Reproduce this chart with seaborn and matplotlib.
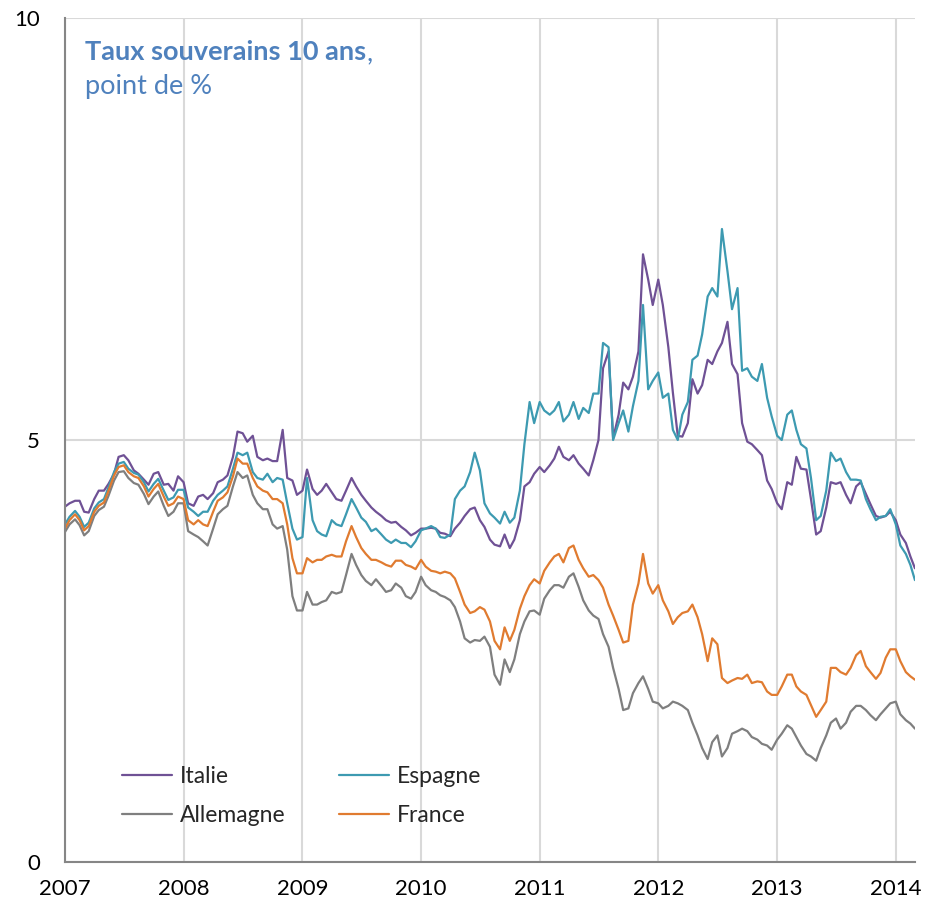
import pandas as pd
import matplotlib
matplotlib.use("Agg")
import matplotlib.pyplot as plt
import matplotlib.dates as mdates
from matplotlib.ticker import MultipleLocator
import seaborn as sns

# Taux souverains à 10 ans, points semi-mensuels
dates = pd.date_range("2007-01-01", periods=173, freq="SMS")

italie = [
    4.21, 4.25, 4.28, 4.28, 4.15, 4.14, 4.30, 4.40, 4.40, 4.48, 4.60, 4.80, 4.82, 4.76, 4.64, 4.60, 4.53, 4.47, 4.60, 4.62, 4.47, 4.48, 4.40, 4.57,
    4.50, 4.25, 4.22, 4.33, 4.35, 4.30, 4.37, 4.50, 4.53, 4.58, 4.80, 5.10, 5.08, 4.98, 5.05, 4.80, 4.76, 4.78, 4.75, 4.75, 5.12, 4.55, 4.52, 4.35,
    4.40, 4.65, 4.42, 4.35, 4.40, 4.48, 4.38, 4.30, 4.28, 4.40, 4.55, 4.45, 4.35, 4.28, 4.20, 4.15, 4.10, 4.05, 4.02, 4.03, 3.97, 3.93, 3.87, 3.90,
    3.95, 3.95, 3.96, 3.95, 3.90, 3.89, 3.86, 3.95, 4.02, 4.10, 4.18, 4.20, 4.05, 3.97, 3.82, 3.76, 3.74, 3.88, 3.72, 3.82, 4.05, 4.45, 4.50, 4.60,
    4.68, 4.62, 4.70, 4.78, 4.92, 4.80, 4.76, 4.82, 4.72, 4.66, 4.58, 4.76, 5.00, 5.85, 6.05, 5.02, 5.30, 5.68, 5.60, 5.75, 6.05, 7.20, 6.90, 6.60,
    6.90, 6.60, 6.10, 5.56, 5.05, 5.04, 5.20, 5.72, 5.55, 5.65, 5.95, 5.90, 6.05, 6.15, 6.40, 5.90, 5.78, 5.20, 4.98, 4.95, 4.88, 4.82, 4.52, 4.42,
    4.25, 4.18, 4.50, 4.47, 4.80, 4.66, 4.65, 4.30, 3.88, 3.92, 4.20, 4.50, 4.48, 4.50, 4.35, 4.25, 4.45, 4.50, 4.36, 4.24, 4.10, 4.08, 4.10, 4.15,
    4.05, 3.88, 3.78, 3.62, 3.48,
]

espagne = [
    4.00, 4.09, 4.16, 4.09, 3.97, 4.02, 4.19, 4.26, 4.30, 4.44, 4.62, 4.72, 4.74, 4.66, 4.61, 4.59, 4.50, 4.39, 4.48, 4.54, 4.40, 4.29, 4.32, 4.41,
    4.41, 4.20, 4.15, 4.10, 4.15, 4.15, 4.28, 4.35, 4.40, 4.45, 4.66, 4.85, 4.82, 4.85, 4.62, 4.55, 4.53, 4.60, 4.50, 4.55, 4.53, 4.25, 3.95, 3.82,
    3.85, 4.55, 4.05, 3.92, 3.88, 3.86, 4.05, 4.00, 3.98, 4.12, 4.30, 4.20, 4.08, 4.03, 3.92, 3.95, 3.88, 3.82, 3.78, 3.82, 3.78, 3.78, 3.73, 3.80,
    3.93, 3.95, 3.98, 3.95, 3.85, 3.84, 3.88, 4.30, 4.40, 4.45, 4.62, 4.85, 4.64, 4.25, 4.13, 4.08, 4.01, 4.15, 4.02, 4.08, 4.40, 4.95, 5.45, 5.20,
    5.45, 5.35, 5.30, 5.35, 5.45, 5.22, 5.30, 5.45, 5.25, 5.38, 5.32, 5.55, 5.55, 6.15, 6.10, 5.00, 5.20, 5.35, 5.10, 5.40, 5.70, 6.60, 5.60, 5.70,
    5.80, 5.50, 5.55, 5.12, 5.00, 5.30, 5.45, 5.95, 6.00, 6.25, 6.70, 6.80, 6.70, 7.50, 7.00, 6.55, 6.80, 5.82, 5.85, 5.75, 5.70, 5.90, 5.50, 5.28,
    5.05, 5.00, 5.30, 5.35, 5.12, 4.95, 4.90, 4.55, 4.05, 4.10, 4.40, 4.85, 4.75, 4.78, 4.62, 4.53, 4.53, 4.52, 4.30, 4.18, 4.05, 4.09, 4.10, 4.18,
    4.00, 3.75, 3.65, 3.52, 3.34,
]

allemagne = [
    3.91, 4.00, 4.06, 3.99, 3.87, 3.92, 4.10, 4.17, 4.21, 4.34, 4.52, 4.62, 4.63, 4.55, 4.49, 4.47, 4.36, 4.24, 4.33, 4.39, 4.22, 4.10, 4.15, 4.25,
    4.25, 3.92, 3.88, 3.85, 3.80, 3.75, 3.95, 4.12, 4.18, 4.22, 4.45, 4.62, 4.55, 4.58, 4.35, 4.25, 4.18, 4.18, 4.00, 3.95, 3.98, 3.70, 3.15, 2.98,
    2.98, 3.20, 3.05, 3.05, 3.08, 3.10, 3.20, 3.18, 3.20, 3.40, 3.65, 3.52, 3.40, 3.33, 3.28, 3.35, 3.27, 3.20, 3.22, 3.30, 3.25, 3.15, 3.12, 3.20,
    3.38, 3.28, 3.22, 3.20, 3.16, 3.14, 3.10, 3.02, 2.85, 2.65, 2.60, 2.63, 2.62, 2.67, 2.55, 2.22, 2.10, 2.40, 2.25, 2.40, 2.70, 2.85, 2.97, 2.98,
    2.93, 3.12, 3.22, 3.28, 3.28, 3.25, 3.38, 3.42, 3.26, 3.10, 2.98, 2.92, 2.88, 2.70, 2.55, 2.30, 2.05, 1.80, 1.82, 2.00, 2.12, 2.20, 2.05, 1.90,
    1.88, 1.82, 1.85, 1.90, 1.88, 1.85, 1.80, 1.65, 1.50, 1.35, 1.22, 1.42, 1.50, 1.25, 1.35, 1.52, 1.55, 1.58, 1.55, 1.48, 1.45, 1.40, 1.38, 1.33,
    1.45, 1.52, 1.62, 1.58, 1.48, 1.38, 1.28, 1.25, 1.20, 1.35, 1.50, 1.65, 1.70, 1.58, 1.65, 1.78, 1.85, 1.85, 1.80, 1.74, 1.68, 1.75, 1.82, 1.88,
    1.90, 1.75, 1.68, 1.64, 1.58,
]

france = [
    3.95, 4.05, 4.12, 4.05, 3.93, 3.98, 4.15, 4.22, 4.26, 4.40, 4.58, 4.68, 4.70, 4.62, 4.57, 4.55, 4.45, 4.33, 4.42, 4.48, 4.33, 4.22, 4.25, 4.33,
    4.30, 4.05, 4.00, 4.05, 4.00, 3.98, 4.15, 4.28, 4.32, 4.38, 4.57, 4.78, 4.72, 4.72, 4.55, 4.45, 4.40, 4.38, 4.30, 4.30, 4.25, 4.00, 3.60, 3.42,
    3.42, 3.60, 3.55, 3.58, 3.58, 3.62, 3.64, 3.62, 3.62, 3.80, 3.98, 3.85, 3.72, 3.65, 3.58, 3.58, 3.55, 3.52, 3.50, 3.57, 3.57, 3.52, 3.50, 3.47,
    3.58, 3.50, 3.45, 3.44, 3.42, 3.44, 3.42, 3.36, 3.20, 3.05, 2.95, 2.97, 3.02, 2.99, 2.85, 2.62, 2.52, 2.78, 2.62, 2.75, 3.00, 3.15, 3.28, 3.35,
    3.30, 3.45, 3.55, 3.62, 3.65, 3.55, 3.72, 3.75, 3.58, 3.48, 3.38, 3.40, 3.34, 3.25, 3.05, 2.92, 2.75, 2.60, 2.62, 3.05, 3.30, 3.65, 3.30, 3.18,
    3.28, 3.10, 2.97, 2.82, 2.90, 2.95, 2.97, 3.05, 2.90, 2.70, 2.38, 2.65, 2.58, 2.18, 2.12, 2.15, 2.18, 2.17, 2.22, 2.12, 2.14, 2.13, 2.02, 1.98,
    1.98, 2.08, 2.22, 2.22, 2.08, 2.02, 1.98, 1.86, 1.72, 1.80, 1.90, 2.30, 2.30, 2.25, 2.22, 2.30, 2.45, 2.50, 2.32, 2.25, 2.17, 2.24, 2.42, 2.52,
    2.52, 2.38, 2.25, 2.20, 2.16,
]

pays = ["Italie", "Espagne", "Allemagne", "France"]
couleurs = {"Italie": "#6F5195", "Espagne": "#3D9AB1", "Allemagne": "#7F7F7F", "France": "#E07B30"}
bleu_titre = "#4F81BD"
gris_axe = "#868686"

sns.set_theme(style="white")
plt.rcParams["font.family"] = ["Lato", "DejaVu Sans"]

df = pd.DataFrame({"date": dates, "Italie": italie, "Espagne": espagne,
                   "Allemagne": allemagne, "France": france})
df = df.melt(id_vars="date", var_name="pays", value_name="taux")

fig, ax = plt.subplots(figsize=(9.27, 9.14), dpi=100)
fig.subplots_adjust(left=0.0701, right=0.987, bottom=0.0569, top=0.9803)

sns.lineplot(data=df, x="date", y="taux", hue="pays", hue_order=pays,
             palette=couleurs, linewidth=1.6, estimator=None, legend=False, ax=ax)

ax.set_xlim(dates[0], dates[-1])
ax.set_ylim(0, 10)
ax.set_xlabel("")
ax.set_ylabel("")

ax.xaxis.set_major_locator(mdates.YearLocator())
ax.xaxis.set_minor_locator(mdates.MonthLocator(bymonth=7))
ax.xaxis.set_major_formatter(mdates.DateFormatter("%Y"))
ax.yaxis.set_major_locator(MultipleLocator(5))
ax.yaxis.set_minor_locator(MultipleLocator(1))

ax.set_axisbelow(True)
ax.grid(True, which="major", color="#D9D9D9", linewidth=1.5)
for s in ["top", "right"]:
    ax.spines[s].set_visible(False)
for s in ["left", "bottom"]:
    ax.spines[s].set_color(gris_axe)
    ax.spines[s].set_linewidth(1.5)

ax.tick_params(axis="both", which="both", direction="in", color=gris_axe,
               width=1.3, labelsize=16, labelcolor="black")
ax.tick_params(axis="both", which="major", length=7)
ax.tick_params(axis="both", which="minor", length=6)
ax.tick_params(axis="x", which="major", pad=12)
ax.tick_params(axis="y", which="major", pad=18)

# legende sur deux colonnes : Italie / Allemagne puis Espagne / France
lignes = dict(zip(pays, ax.get_lines()))
ordre = ["Italie", "Allemagne", "Espagne", "France"]
ax.legend([lignes[p] for p in ordre], ordre, ncol=2, frameon=False, fontsize=16.5,
          loc="upper left", bbox_to_anchor=(0.067, 0.114), borderaxespad=0, borderpad=0,
          handlelength=2.2, handletextpad=0.35, columnspacing=2.3, labelspacing=0.78)

# titre en haut a gauche
t1 = fig.text(85 / 927, 1 - 60 / 914, "Taux souverains 10 ans", fontsize=19.5,
              fontweight="bold", color=bleu_titre, va="baseline", ha="left")
fig.canvas.draw()
bb = t1.get_window_extent()
fig.text(bb.x1 / fig.bbox.width, 1 - 60 / 914, ",", fontsize=19.5,
         color=bleu_titre, va="baseline", ha="left")
fig.text(85 / 927, 1 - 94 / 914, "point de %", fontsize=19.5,
         color=bleu_titre, va="baseline", ha="left")

fig.savefig("out.png", dpi=100)
